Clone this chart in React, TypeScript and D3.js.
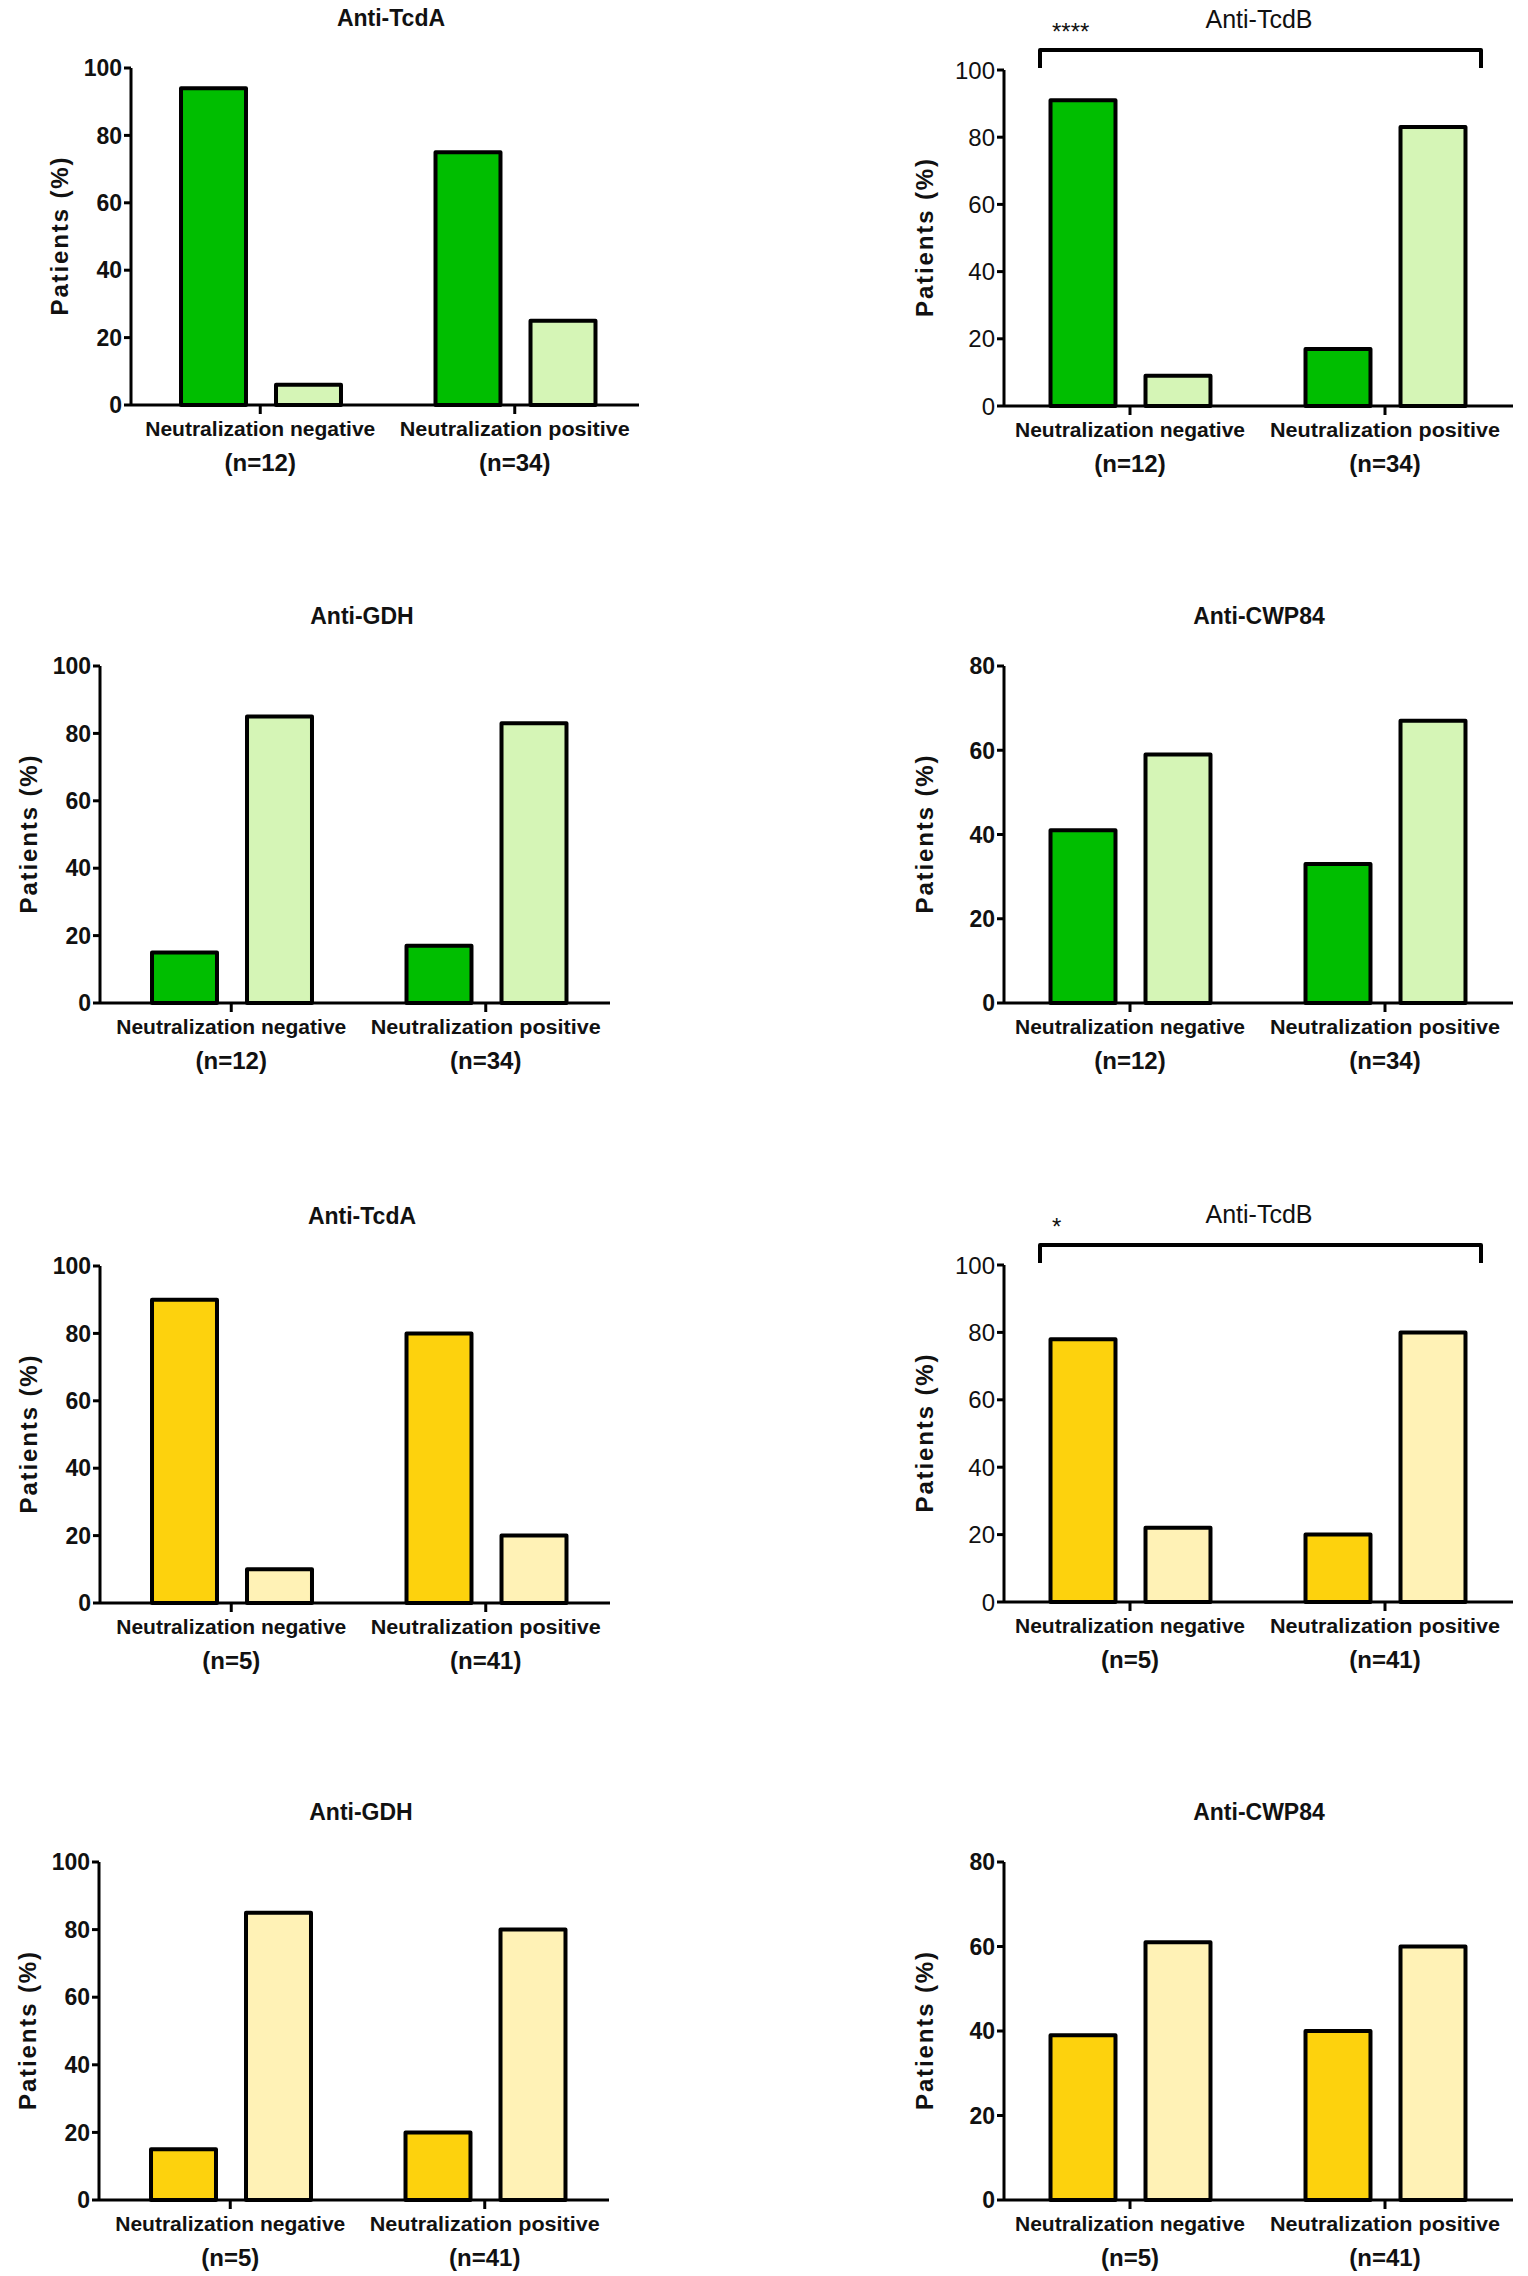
import React from "react";
import * as d3 from "d3";

// categories and labels
const groups = ["Neutralization negative", "Neutralization positive"];
const seriesKeys = ["dark", "light"];
const nLabelsTop = ["(n=12)", "(n=34)"];
const nLabelsBottom = ["(n=5)", "(n=41)"];
const titles = ["Anti-TcdA", "Anti-TcdB", "Anti-GDH", "Anti-CWP84", "Anti-TcdA", "Anti-TcdB", "Anti-GDH", "Anti-CWP84"];
const significance = ["", "****", "", "", "", "*", "", ""];
const yMax = [100, 100, 100, 80, 100, 100, 100, 80];

// values per panel: [negative: dark, light], [positive: dark, light]
const greenTcdA = [[94, 6], [75, 25]];
const greenTcdB = [[91, 9], [17, 83]];
const greenGDH = [[15, 85], [17, 83]];
const greenCWP84 = [[41, 59], [33, 67]];
const yellowTcdA = [[90, 10], [80, 20]];
const yellowTcdB = [[78, 22], [20, 80]];
const yellowGDH = [[15, 85], [20, 80]];
const yellowCWP84 = [[39, 61], [40, 60]];

const panelValues = [greenTcdA, greenTcdB, greenGDH, greenCWP84, yellowTcdA, yellowTcdB, yellowGDH, yellowCWP84];

const green = { dark: "#00be00", light: "#d5f5b6" };
const yellow = { dark: "#fdd20d", light: "#fff2b6" };

const FONT = "'Liberation Sans', Arial, sans-serif";

// panel placement
const layout = [
  { axisX: 131, yTop: 68, y0: 405, left: true, shift: -4 },
  { axisX: 1004, yTop: 70, y0: 406, left: false, shift: 0 },
  { axisX: 100, yTop: 666, y0: 1003, left: true, shift: -2 },
  { axisX: 1004, yTop: 666, y0: 1003, left: false, shift: 0 },
  { axisX: 100, yTop: 1266, y0: 1603, left: true, shift: -2 },
  { axisX: 1004, yTop: 1265, y0: 1602, left: false, shift: 0 },
  { axisX: 99, yTop: 1862, y0: 2200, left: true, shift: -2 },
  { axisX: 1004, yTop: 1862, y0: 2200, left: false, shift: 0 },
];

function Panel({ idx }) {
  const L = layout[idx];
  const data = panelValues[idx];
  const colors = idx < 4 ? green : yellow;
  const nLabels = idx < 4 ? nLabelsTop : nLabelsBottom;
  const bracket = significance[idx] !== "";
  const base = L.axisX + L.shift;
  const start = L.left ? 6 : -1.5;
  const end = L.left ? 515 : 508.5;
  const axisEnd = L.left ? 512 : 509;

  const x = d3.scaleBand().domain(groups).range([base + start, base + end]);
  const xs = d3.scaleBand().domain(seriesKeys).range([33, 223]).paddingInner(0.316).paddingOuter(0.158);
  const y = d3.scaleLinear().domain([0, yMax[idx]]).range([L.y0, L.yTop]);
  const ticks = y.ticks(5);
  const tickWeight = bracket ? "normal" : "bold";
  const mid = (L.yTop + L.y0) / 2;
  const labelX = L.left ? L.axisX - 74 : L.axisX - 82;

  return (
    <g fontFamily={FONT} fill="#111">
      <text
        x={base + (L.left ? 264 : 255)}
        y={L.yTop - 42}
        textAnchor="middle"
        fontSize={bracket ? 25 : 23}
        fontWeight={bracket ? "normal" : "bold"}
      >
        {titles[idx]}
      </text>
      {bracket && (
        <g>
          <text x={L.axisX + 48} y={L.yTop - 30} fontSize={24} textAnchor="start">
            {significance[idx]}
          </text>
          <path
            d={`M${L.axisX + 36},${L.yTop - 2}V${L.yTop - 20}H${L.axisX + 477}V${L.yTop - 2}`}
            fill="none"
            stroke="#000"
            strokeWidth={4}
            strokeLinejoin="round"
          />
        </g>
      )}
      {data.map((pair, gi) =>
        pair.map((v, si) => (
          <rect
            key={`${gi}-${si}`}
            x={x(groups[gi]) + xs(seriesKeys[si])}
            y={y(v)}
            width={xs.bandwidth()}
            height={L.y0 - y(v)}
            fill={colors[seriesKeys[si]]}
            stroke="#000"
            strokeWidth={4}
            strokeLinejoin="round"
          />
        ))
      )}
      <line x1={L.axisX} x2={L.axisX} y1={L.yTop} y2={L.y0} stroke="#000" strokeWidth={3} />
      <line x1={L.axisX} x2={base + axisEnd} y1={L.y0} y2={L.y0} stroke="#000" strokeWidth={3} />
      {ticks.map((t) => (
        <g key={t}>
          <line x1={L.axisX - 7} x2={L.axisX} y1={y(t)} y2={y(t)} stroke="#000" strokeWidth={3} />
          <text
            x={L.axisX - 9}
            y={y(t)}
            dy="0.36em"
            textAnchor="end"
            fontSize={bracket ? 24 : 23}
            fontWeight={tickWeight}
          >
            {t}
          </text>
        </g>
      ))}
      {groups.map((g, gi) => {
        const cx = x(g) + x.bandwidth() / 2;
        return (
          <g key={g}>
            <line x1={cx} x2={cx} y1={L.y0} y2={L.y0 + 9} stroke="#000" strokeWidth={3} />
            <text
              x={cx}
              y={L.y0 + 31}
              textAnchor="middle"
              fontSize={20}
              fontWeight="bold"
              textLength={230}
              lengthAdjust="spacingAndGlyphs"
            >
              {g}
            </text>
            <text x={cx} y={L.y0 + 66} textAnchor="middle" fontSize={24} fontWeight="bold">
              {nLabels[gi]}
            </text>
          </g>
        );
      })}
      <text
        transform={`translate(${labelX + 11},${mid}) rotate(-90)`}
        textAnchor="middle"
        fontSize={24}
        fontWeight="bold"
        textLength={158}
        lengthAdjust="spacing"
      >
        Patients (%)
      </text>
    </g>
  );
}

export default function App() {
  return (
    <svg
      width={1528}
      height={2276}
      viewBox="0 0 1528 2276"
      style={{ position: "absolute", left: 0, top: 0, background: "#fff" }}
    >
      <rect width={1528} height={2276} fill="#fff" />
      {layout.map((_, i) => (
        <Panel key={i} idx={i} />
      ))}
    </svg>
  );
}
